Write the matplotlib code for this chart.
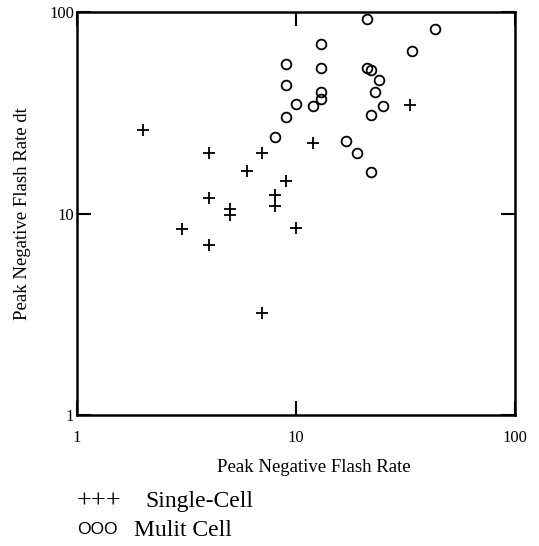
import numpy as np
import matplotlib
matplotlib.use('Agg')
import matplotlib.pyplot as plt

# datos (escala log-log)
single_x = [2, 4, 4, 4, 3, 5, 5, 6, 7, 7, 8, 8, 9, 10, 12, 33]
single_y = [26, 20, 12, 7, 8.4, 10.5, 9.8, 16.3, 20, 3.2, 12.4, 10.9, 14.5, 8.5, 22.5, 34.5]

multi_x = [21, 43, 13, 34, 9, 13, 21, 22, 24, 9, 23, 13, 13, 10, 12, 25, 9, 22, 8, 17, 19, 22]
multi_y = [92, 82, 69, 64, 55, 53, 53, 51.5, 46, 43.5, 40, 40, 37, 35, 34, 34, 30, 31, 24, 23, 20, 16]

tick_vals = [1, 10, 100]
tick_labels = ['1', '10', '100']

plt.rcParams['font.family'] = ['Liberation Serif', 'DejaVu Serif']

fig = plt.figure(figsize=(5.39, 5.46), dpi=100)
ax = fig.add_axes([0.1429, 0.2399, 0.8126, 0.7381])

ax.plot(single_x, single_y, linestyle='none', marker='+', color='black',
        markersize=9, markeredgewidth=1.3)
ax.plot(multi_x, multi_y, linestyle='none', marker='o', color='black',
        markerfacecolor='none', markersize=7, markeredgewidth=1.3)

ax.set_xscale('log')
ax.set_yscale('log')
ax.set_xlim(1, 100)
ax.set_ylim(1, 100)
ax.minorticks_off()
ax.set_xticks(tick_vals)
ax.set_xticklabels(tick_labels)
ax.set_yticks(tick_vals)
ax.set_yticklabels(tick_labels)
ax.tick_params(axis='both', which='major', direction='in', length=10, width=1.5,
               top=True, right=True, labelsize=12, colors='black')
ax.tick_params(axis='x', pad=11)
ax.tick_params(axis='y', pad=2)

for s in ax.spines.values():
    s.set_linewidth(1.8)

ax.set_xlabel('Peak Negative Flash Rate', fontsize=13.5)
ax.xaxis.label.set_va('center')
ax.xaxis.set_label_coords((314 - 77) / 438, (415 - 467) / 403)
ax.set_ylabel('Peak Negative Flash Rate dt', fontsize=13.5)
ax.yaxis.label.set_va('center')
ax.yaxis.set_label_coords((22 - 77) / 438, 0.5)

# leyenda escrita a mano debajo del grafico
fig.text(77 / 539, 1 - 502 / 546, '+++', fontsize=19, va='center', ha='left')
fig.text(145 / 539, 1 - 502 / 546, 'Single-Cell', fontsize=17, va='center', ha='left')
fig.text(77 / 539, 1 - 530 / 546, 'OOO', fontsize=12.5, va='center', ha='left',
         family=['Liberation Sans', 'DejaVu Sans'])
fig.text(134 / 539, 1 - 530 / 546, 'Mulit Cell', fontsize=17, va='center', ha='left')

plt.savefig('out.png', dpi=100)
